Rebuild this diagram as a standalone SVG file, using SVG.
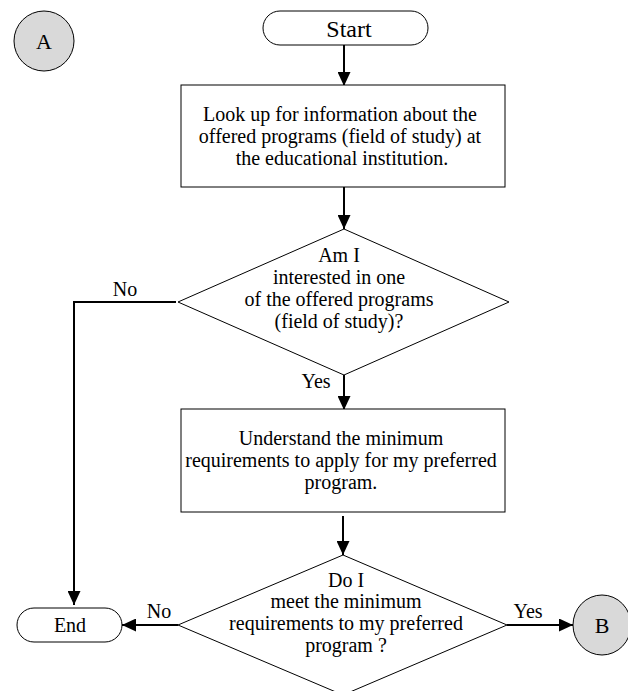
<svg xmlns="http://www.w3.org/2000/svg" width="628" height="691" viewBox="0 0 628 691">
  <style>
    .shape { fill: #ffffff; stroke: #000000; stroke-width: 1; }
    .conn { fill: #d9d9d9; stroke: #000000; stroke-width: 1; }
    .t { font-family: "Liberation Serif", "Times New Roman", serif; font-size: 20px; fill: #000000; text-anchor: middle; }
    .big { font-size: 24px; }
    .lbl { font-size: 22px; }
    .edge { fill: none; stroke: #000000; stroke-width: 2; }
  </style>
  <defs>
    <marker id="arrow" markerUnits="userSpaceOnUse" markerWidth="14" markerHeight="13" refX="14" refY="6.5" orient="auto">
      <path d="M0,0 L14,6.5 L0,13 Z" fill="#000000"/>
    </marker>
  </defs>
  <rect width="628" height="691" fill="#ffffff"/>

  <g id="connectors">
    <line class="edge" x1="344" y1="45" x2="344" y2="86" marker-end="url(#arrow)"/>
    <line class="edge" x1="344" y1="187" x2="344" y2="229" marker-end="url(#arrow)"/>
    <polyline class="edge" points="176,302 74,302 74,605" marker-end="url(#arrow)"/>
    <line class="edge" x1="344" y1="375" x2="344" y2="410" marker-end="url(#arrow)"/>
    <line class="edge" x1="343" y1="516" x2="343" y2="555" marker-end="url(#arrow)"/>
    <line class="edge" x1="178" y1="625" x2="122" y2="625" marker-end="url(#arrow)"/>
    <line class="edge" x1="507" y1="625" x2="573" y2="625" marker-end="url(#arrow)"/>
    <text class="t" x="125" y="296">No</text>
    <text class="t" x="316" y="388">Yes</text>
    <text class="t" x="159" y="618">No</text>
    <text class="t" x="528" y="618">Yes</text>
  </g>

  <g id="nodeA">
    <circle class="conn" cx="44" cy="41" r="30"/>
    <text class="t lbl" x="44" y="49">A</text>
  </g>

  <g id="start">
    <rect class="shape" x="263" y="11" width="165" height="34" rx="17" ry="17"/>
    <text class="t big" x="349" y="37">Start</text>
  </g>

  <g id="lookup">
    <rect class="shape" x="181" y="85" width="324" height="102"/>
    <text class="t" x="340" y="121">Look up for information about the</text>
    <text class="t" x="340" y="143">offered programs (field of study) at</text>
    <text class="t" x="342" y="165">the educational institution.</text>
  </g>

  <g id="interested">
    <polygon class="shape" points="344,229 509,302 344,375 178,302"/>
    <text class="t" x="339" y="262">Am I</text>
    <text class="t" x="339" y="284">interested in one</text>
    <text class="t" x="339" y="306">of the offered programs</text>
    <text class="t" x="339" y="328">(field of study)?</text>
  </g>

  <g id="understand">
    <rect class="shape" x="181" y="409" width="324" height="103"/>
    <text class="t" x="341" y="445">Understand the minimum</text>
    <text class="t" x="341" y="467">requirements to apply for my preferred</text>
    <text class="t" x="341" y="489">program.</text>
  </g>

  <g id="meet">
    <polygon class="shape" points="343,555 507,625 343,695 178,625"/>
    <text class="t" x="346" y="587">Do I</text>
    <text class="t" x="346" y="608">meet the minimum</text>
    <text class="t" x="346" y="630">requirements to my preferred</text>
    <text class="t" x="346" y="652">program ?</text>
  </g>

  <g id="end">
    <rect class="shape" x="17" y="608" width="105" height="34" rx="17" ry="17"/>
    <text class="t" x="70" y="632">End</text>
  </g>

  <g id="nodeB">
    <ellipse class="conn" cx="602" cy="625" rx="29" ry="30"/>
    <text class="t lbl" x="602" y="633">B</text>
  </g>
</svg>
